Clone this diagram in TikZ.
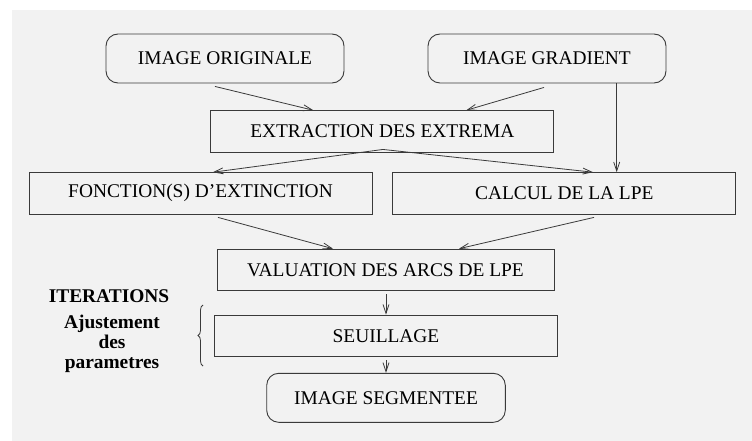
\documentclass[tikz,border=0pt]{standalone}
\usepackage{fontspec}
\setmainfont{Liberation Serif}
\usetikzlibrary{arrows.meta, calc, positioning, decorations.pathreplacing}
\definecolor{fond}{HTML}{F2F2F2}
\definecolor{trait}{HTML}{3A3A3A}

\begin{document}
\begin{tikzpicture}[x=1pt, y=-1pt,
        arr/.style={-{Straight Barb[length=9pt, width=6pt]}, line width=0.8pt, trait},
        boite/.style={draw=trait, line width=0.9pt, font=\fontsize{19.4}{23}\selectfont,
                      inner sep=0pt},
        rboite/.style={boite, rounded corners=12pt},
        legende/.style={font=\fontsize{19.4}{20}\selectfont\bfseries, align=center}
      ]
      \useasboundingbox (0,0) rectangle (752,441);
      \fill[fond] (12,10) rectangle (752,441);

      \node[rboite, minimum width=238pt, minimum height=49pt] (orig) at (225,58.5) {IMAGE ORIGINALE};
      \node[rboite, minimum width=238pt, minimum height=49pt] (grad) at (547,58.5) {IMAGE GRADIENT};
      \node[boite, minimum width=343pt, minimum height=41.6pt] (extr) at (382.3,131.5) {EXTRACTION DES EXTREMA};
      \node[boite, minimum width=343pt, minimum height=41.3pt] (fonc) at (200.5,193.3) {FONCTION(S) D'EXTINCTION};
      \node[boite, minimum width=343pt, minimum height=41.3pt] (calc) at (564.3,193.3) {CALCUL DE LA LPE};
      \node[boite, minimum width=337pt, minimum height=41.7pt] (valu) at (385.5,270) {VALUATION DES ARCS DE LPE};
      \node[boite, minimum width=343.7pt, minimum height=41.7pt] (seuil) at (386,336) {SEUILLAGE};
      \node[rboite, minimum width=238.6pt, minimum height=49pt] (seg) at (386,397.8) {IMAGE SEGMENTEE};

      % boucle d'ajustement
      \node[legende] (iter) at (109,296) {ITERATIONS};
      \node[legende] (ajust) at (112,344) {Ajustement\\des\\parametres};
      \draw[trait, line width=0.8pt, decorate, decoration={brace, amplitude=5pt}]
        (203,366) -- (203,305);

      \coordinate (ex) at ([xshift=0.7pt, yshift=3.3pt]extr.south);
      \draw[arr] ([xshift=-10pt, yshift=-3pt]orig.south) -- ([xshift=-69pt]extr.north);
      \draw[arr] ([xshift=-3pt, yshift=-4pt]grad.south) -- ([xshift=84pt]extr.north);
      \draw[arr] ([xshift=69.7pt]grad.south) -- ([xshift=52.4pt]calc.north);
      \draw[arr] (ex) -- ([xshift=12.5pt]fonc.north);
      \draw[arr] (ex) -- ([xshift=28.7pt]calc.north);
      \draw[arr] ([xshift=17.5pt, yshift=-3pt]fonc.south) -- ([xshift=-52.5pt]valu.north);
      \draw[arr] ([xshift=29.7pt, yshift=-3pt]calc.south) -- ([xshift=73.5pt]valu.north);
      \draw[arr] ([xshift=0.5pt, yshift=-3pt]valu.south) -- (seuil.north);
      \draw[arr] ([yshift=-3pt]seuil.south) -- (seg.north);
    \end{tikzpicture}
\end{document}
